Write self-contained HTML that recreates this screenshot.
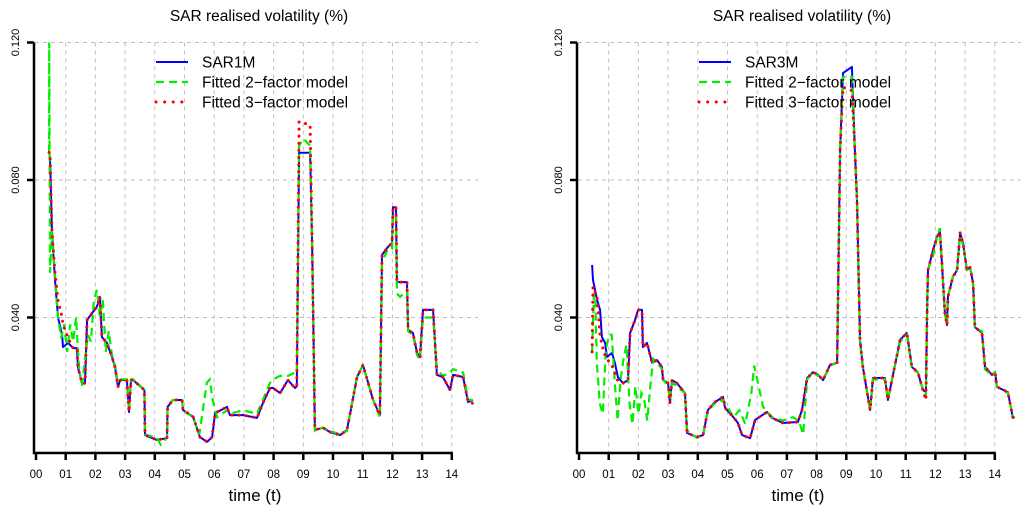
<!DOCTYPE html>
<html><head><meta charset="utf-8"><style>
html,body{margin:0;padding:0;background:#fff;}
svg{display:block;font-family:"Liberation Sans",Arial,sans-serif;}
</style></head><body>
<svg id="chart" width="1024" height="513" viewBox="0 0 1024 513" xmlns="http://www.w3.org/2000/svg"></svg>
<script>
// ---- data ----
const yTicks = [0.04, 0.08, 0.12];
const yTickLabels = ["0.040", "0.080", "0.120"];
const xTickLabels = ["00","01","02","03","04","05","06","07","08","09","10","11","12","13","14"];

const leftT = [0.44,0.47,0.54,0.64,0.74,0.88,0.91,1.08,1.25,1.38,1.41,1.55,1.65,1.72,1.89,2.05,2.15,2.22,2.39,2.56,2.66,2.76,2.83,3.06,3.13,3.20,3.27,3.65,3.67,4.07,4.41,4.43,4.61,4.92,4.95,5.29,5.52,5.76,5.93,6.03,6.43,6.53,6.97,7.44,7.64,7.88,7.98,8.22,8.48,8.72,8.78,8.86,9.23,9.30,9.39,9.66,9.90,10.24,10.47,10.81,11.01,11.35,11.58,11.65,11.85,11.99,12.02,12.12,12.15,12.26,12.49,12.53,12.69,12.83,12.93,13.03,13.37,13.50,13.70,13.94,14.04,14.38,14.55,14.71];
const sar1m = [.0870,.0867,.0646,.0509,.0401,.0349,.0314,.0326,.0311,.0311,.0256,.0209,.0209,.0393,.0413,.0431,.0460,.0343,.0326,.0285,.0256,.0198,.0218,.0218,.0125,.0218,.0218,.0189,.0058,.0044,.0049,.0140,.0160,.0160,.0131,.0111,.0052,.0038,.0052,.0122,.0140,.0116,.0116,.0108,.0151,.0195,.0195,.0180,.0218,.0195,.0200,.0879,.0879,.0600,.0073,.0079,.0067,.0058,.0073,.0227,.0262,.0160,.0116,.0582,.0605,.0617,.0721,.0721,.0503,.0503,.0503,.0364,.0355,.0297,.0285,.0422,.0422,.0233,.0227,.0189,.0233,.0227,.0154,.0160];
const left3f = [.0880,.0880,.0646,.0530,.0450,.0400,.0380,.0340,.0311,.0311,.0256,.0209,.0209,.0393,.0413,.0431,.0460,.0343,.0326,.0285,.0256,.0198,.0218,.0218,.0125,.0218,.0218,.0189,.0058,.0044,.0049,.0140,.0160,.0160,.0131,.0111,.0052,.0038,.0052,.0122,.0140,.0116,.0116,.0108,.0151,.0195,.0195,.0180,.0218,.0195,.0200,.0970,.0960,.0600,.0073,.0079,.0067,.0058,.0073,.0227,.0262,.0160,.0116,.0582,.0605,.0617,.0721,.0721,.0503,.0503,.0503,.0364,.0355,.0297,.0285,.0422,.0422,.0233,.0227,.0189,.0233,.0227,.0154,.0150];
const left2fT = [0.44,0.445,0.47,0.54,0.64,0.74,0.85,0.95,1.05,1.15,1.25,1.35,1.45,1.55,1.65,1.75,1.85,1.95,2.05,2.15,2.25,2.35,2.45,2.56,2.66,2.76,2.83,3.06,3.13,3.20,3.27,3.65,3.67,4.07,4.20,4.41,4.43,4.61,4.92,4.95,5.29,5.50,5.60,5.75,5.85,5.95,6.10,6.43,6.53,6.97,7.44,7.64,7.88,7.98,8.22,8.48,8.72,8.78,8.86,9.00,9.23,9.30,9.39,9.66,9.90,10.24,10.47,10.81,11.01,11.35,11.58,11.65,11.85,11.99,12.02,12.12,12.15,12.26,12.49,12.53,12.69,12.83,12.93,13.03,13.37,13.50,13.70,13.94,14.04,14.38,14.55,14.71];
const left2f = [.088,.120,.053,.066,.052,.040,.034,.038,.030,.038,.033,.040,.025,.020,.028,.035,.033,.045,.048,.040,.045,.030,.036,.029,.026,.021,.022,.022,.013,.022,.022,.019,.006,.005,.003,.005,.014,.016,.016,.013,.011,.006,.012,.021,.022,.016,.011,.013,.012,.013,.012,.016,.021,.022,.023,.023,.024,.024,.090,.092,.090,.060,.007,.008,.007,.006,.007,.023,.026,.016,.011,.056,.060,.060,.070,.070,.047,.046,.048,.036,.035,.029,.028,.040,.040,.025,.023,.024,.025,.024,.016,.016];

const rightT = [0.44,0.47,0.61,0.71,0.77,0.88,0.94,1.11,1.21,1.31,1.48,1.65,1.72,1.89,1.99,2.12,2.15,2.29,2.46,2.63,2.79,2.83,3.00,3.06,3.13,3.30,3.57,3.64,3.97,4.18,4.34,4.58,4.85,4.92,5.19,5.35,5.49,5.76,5.93,6.33,6.50,6.87,7.37,7.51,7.68,7.88,8.05,8.22,8.45,8.69,8.79,8.89,9.19,9.29,9.36,9.46,9.56,9.80,9.90,10.30,10.40,10.64,10.81,11.04,11.21,11.41,11.58,11.68,11.72,11.75,11.92,12.05,12.15,12.22,12.32,12.39,12.42,12.59,12.73,12.83,12.93,13.06,13.16,13.27,13.33,13.57,13.67,13.91,14.01,14.07,14.44,14.61,14.68];
const sar3m = [.0553,.0509,.0451,.0422,.0343,.0326,.0285,.0297,.0268,.0227,.0209,.0218,.0355,.0393,.0422,.0422,.0314,.0326,.0268,.0276,.0256,.0218,.0209,.0151,.0218,.0209,.0180,.0064,.0052,.0058,.0131,.0154,.0169,.0137,.0111,.0093,.0058,.0049,.0102,.0125,.0108,.0093,.0096,.0131,.0224,.0241,.0233,.0218,.0262,.0268,.0887,.1111,.1129,.0887,.0742,.0335,.0256,.0131,.0224,.0224,.0160,.0262,.0335,.0355,.0256,.0241,.0189,.0183,.0422,.0538,.0596,.0634,.0649,.0559,.0413,.0378,.0460,.0518,.0538,.0646,.0617,.0538,.0547,.0500,.0372,.0355,.0256,.0233,.0241,.0198,.0183,.0108,.0110];
const right3f = [.0300,.0490,.0460,.0350,.0320,.0290,.0280,.0260,.0240,.0215,.0209,.0218,.0355,.0393,.0422,.0422,.0314,.0326,.0268,.0276,.0256,.0218,.0209,.0151,.0218,.0209,.0180,.0064,.0052,.0058,.0131,.0154,.0169,.0137,.0111,.0093,.0058,.0049,.0102,.0125,.0108,.0093,.0096,.0131,.0224,.0241,.0233,.0218,.0262,.0268,.0887,.1070,.1060,.0887,.0742,.0335,.0256,.0131,.0224,.0224,.0160,.0262,.0335,.0355,.0256,.0241,.0189,.0160,.0422,.0538,.0596,.0634,.0649,.0559,.0413,.0378,.0460,.0518,.0538,.0646,.0617,.0538,.0547,.0500,.0372,.0355,.0256,.0233,.0241,.0198,.0183,.0108,.0110];
const right2fT = [0.44,0.50,0.55,0.60,0.70,0.80,0.90,1.00,1.10,1.20,1.30,1.40,1.50,1.60,1.70,1.80,1.90,2.00,2.10,2.20,2.30,2.40,2.50,2.63,2.79,2.83,3.00,3.06,3.13,3.30,3.57,3.64,3.97,4.18,4.34,4.58,4.85,5.00,5.20,5.40,5.60,5.80,5.90,6.00,6.20,6.50,6.87,7.20,7.40,7.55,7.68,7.88,8.05,8.22,8.45,8.69,8.79,8.89,9.19,9.29,9.36,9.46,9.56,9.80,9.90,10.30,10.40,10.64,10.81,11.04,11.21,11.41,11.58,11.68,11.72,11.75,11.92,12.05,12.15,12.22,12.32,12.39,12.42,12.59,12.73,12.83,12.93,13.06,13.16,13.27,13.33,13.57,13.67,13.91,14.01,14.07,14.44,14.61,14.68];
const right2f = [.030,.047,.046,.027,.015,.012,.030,.035,.035,.022,.010,.022,.028,.032,.015,.009,.020,.012,.018,.016,.010,.020,.028,.027,.025,.022,.020,.016,.021,.020,.018,.007,.005,.006,.013,.015,.016,.014,.011,.013,.009,.018,.026,.022,.014,.011,.010,.011,.010,.006,.022,.024,.023,.022,.026,.027,.088,.110,.110,.088,.074,.033,.025,.013,.022,.022,.016,.026,.033,.035,.025,.024,.019,.017,.042,.054,.058,.063,.066,.056,.041,.038,.046,.052,.054,.064,.061,.054,.055,.050,.037,.036,.025,.023,.024,.020,.018,.011,.011];

const panels = [
  {name:"left", dx:0, label:"SAR1M", t1:leftT, s1:sar1m, t2:left2fT, s2:left2f, t3:leftT, s3:left3f},
  {name:"right", dx:543, label:"SAR3M", t1:rightT, s1:sar3m, t2:right2fT, s2:right2f, t3:rightT, s3:right3f}
];

// ---- drawing ----
const NS = "http://www.w3.org/2000/svg";
const svg = document.getElementById("chart");
function mk(tag, attrs, parent){
  const e = document.createElementNS(NS, tag);
  for (const k in attrs) e.setAttribute(k, attrs[k]);
  (parent||svg).appendChild(e);
  return e;
}
const X0 = 36, XS = 29.7, Y0 = 455, YS = 3437.5;
function xs(t, dx){ return dx + X0 + t*XS; }
function ys(v){ return Y0 - v*YS; }
function pathD(ts, vs, dx){
  const n = Math.min(ts.length, vs.length);
  let d = "";
  for (let i=0;i<n;i++) d += (i?"L":"M") + xs(ts[i],dx).toFixed(1) + "," + ys(vs[i]).toFixed(1);
  return d;
}

panels.forEach(p => {
  const g = mk("g", {});
  
  
  const dx = p.dx;

  // grid
  const grid = mk("g", {stroke:"#c0c0c0", "stroke-width":1, "stroke-dasharray":"4,4"}, g);
  
  
  for (let i=1;i<xTickLabels.length;i++){
    mk("line", {x1:xs(i,dx), x2:xs(i,dx), y1:ys(0.12), y2:452}, grid);
  }
  yTicks.forEach(v => mk("line", {x1:dx+35, x2:dx+478, y1:ys(v), y2:ys(v)}, grid));

  // title
  const title = mk("text", {x:dx+259, y:21, "text-anchor":"middle", "font-size":15.5, fill:"#000"}, g);
  title.textContent = "SAR realised volatility (%)";
  
  

  // axes
  const ax = mk("g", {stroke:"#000", "stroke-width":2.5, fill:"none"}, g);
  
  
  mk("line", {x1:dx+34, x2:dx+34, y1:ys(0.12), y2:454}, ax);
  mk("line", {x1:dx+33, x2:xs(14,dx)+1, y1:453, y2:453}, ax);
  yTicks.forEach((v,i) => {
    mk("line", {x1:dx+27, x2:dx+34, y1:ys(v), y2:ys(v)}, ax);
    const tl = mk("text", {transform:`translate(${dx+19},${ys(v)}) rotate(-90)`, "text-anchor":"middle", "font-size":11, fill:"#000", stroke:"none"}, g);
    tl.textContent = yTickLabels[i];
    
    
  });
  xTickLabels.forEach((lab,i) => {
    mk("line", {x1:xs(i,dx), x2:xs(i,dx), y1:453, y2:460}, ax);
    const tl = mk("text", {x:xs(i,dx), y:478, "text-anchor":"middle", "font-size":11.5, fill:"#000"}, g);
    tl.textContent = lab;
    
    
  });
  const xl = mk("text", {x:dx+255, y:501, "text-anchor":"middle", "font-size":17, fill:"#000"}, g);
  xl.textContent = "time (t)";
  
  

  // series
  const l1 = mk("path", {d:pathD(p.t1,p.s1,dx), stroke:"#0000ff", "stroke-width":2, fill:"none", "stroke-linejoin":"round"}, g);
  
  
  const l2 = mk("path", {d:pathD(p.t2,p.s2,dx), stroke:"#00ee00", "stroke-width":2.2, fill:"none", "stroke-dasharray":"8,5"}, g);
  
  
  const l3 = mk("path", {d:pathD(p.t3,p.s3,dx), stroke:"#ff0000", "stroke-width":3, fill:"none", "stroke-dasharray":"0.1,7", "stroke-linecap":"round"}, g);
  
  

  // legend
  const lg = mk("g", {}, g);
  
  
  const entries = [
    {txt:p.label, stroke:"#0000ff", w:2, dash:null, cap:"butt"},
    {txt:"Fitted 2\u2212factor model", stroke:"#00ee00", w:2.2, dash:"8,5", cap:"butt"},
    {txt:"Fitted 3\u2212factor model", stroke:"#ff0000", w:3, dash:"0.1,8.5", cap:"round"}
  ];
  entries.forEach((e,i) => {
    const y = 62 + i*20;
    const sw = mk("line", {x1:dx+156, x2:dx+188, y1:y, y2:y, stroke:e.stroke, "stroke-width":e.w, "stroke-linecap":e.cap}, lg);
    if (e.dash) sw.setAttribute("stroke-dasharray", e.dash);
    
    
    const t = mk("text", {x:dx+202, y:y+5.5, "font-size":15.5, fill:"#000"}, lg);
    t.textContent = e.txt;
    
    
  });
});
</script>
</body></html>
